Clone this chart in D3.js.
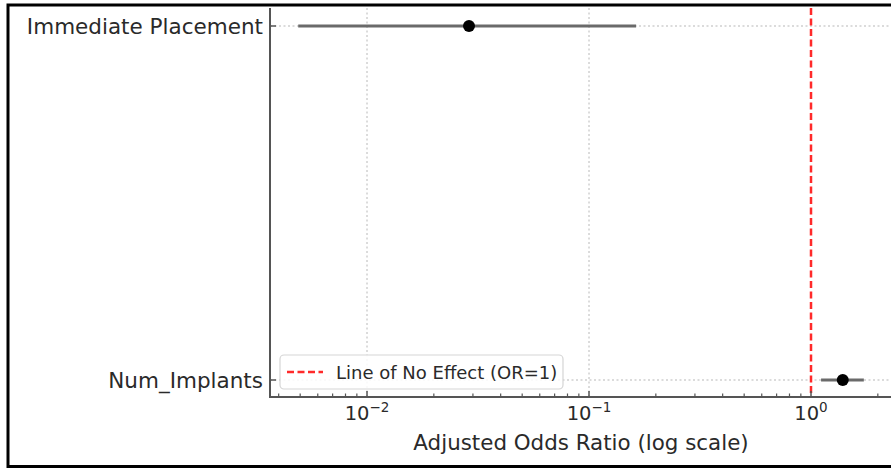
<!DOCTYPE html>
<html>
<head>
<meta charset="utf-8">
<script src="https://cdn.jsdelivr.net/npm/d3@7"></script>
<style>
  html, body { margin: 0; padding: 0; background: #fff; }
  svg { display: block; }
  text { font-family: "DejaVu Sans", sans-serif; }
</style>
</head>
<body>
<svg id="chart" width="891" height="468"></svg>
<script>
// ---- data ----
const categories = ["Immediate Placement", "Num_Implants"];
const oddsRatios = [0.0288, 1.39];
const ciLower = [0.0049, 1.11];
const ciUpper = [0.163, 1.73];
const majorTicks = [0.01, 0.1, 1];
const majorTickExponents = ["\u22122", "\u22121", "0"];
const legendLabel = "Line of No Effect (OR=1)";
const xLabel = "Adjusted Odds Ratio (log scale)";
const noEffect = 1;

// ---- layout ----
(function () {
const W = 891, H = 468;
const plotLeft = 270, plotTop = 8, plotBottom = 397, rightPx = 920;
const svg = d3.select("#chart");

// frame (cropped screenshot border)
svg.append("path")
  .attr("d", `M ${W + 5} 5 H 8 V 466.5 H ${W + 5}`)
  .attr("fill", "none").attr("stroke", "#000").attr("stroke-width", 3);

const x = d3.scaleLog()
  .domain([Math.pow(10, -2.437), Math.pow(10, 0.491)])
  .range([plotLeft, rightPx]);
const y = d3.scalePoint().domain(categories).range([26, 380]);

const g = svg.append("g");

// grid
g.selectAll(".vgrid").data(majorTicks.filter(d => d !== noEffect)).enter()
  .append("line")
  .attr("x1", d => x(d)).attr("x2", d => x(d))
  .attr("y1", plotTop).attr("y2", plotBottom)
  .attr("stroke", "#d0d0d0").attr("stroke-width", 1.5)
  .attr("stroke-dasharray", "2,2.5");
g.selectAll(".hgrid").data(categories).enter()
  .append("line")
  .attr("x1", plotLeft).attr("x2", W)
  .attr("y1", d => y(d)).attr("y2", d => y(d))
  .attr("stroke", "#d0d0d0").attr("stroke-width", 1.5)
  .attr("stroke-dasharray", "2,2.5");

// CI lines
g.selectAll(".ci").data(categories).enter()
  .append("line")
  .attr("x1", (d, i) => x(ciLower[i])).attr("x2", (d, i) => x(ciUpper[i]))
  .attr("y1", d => y(d)).attr("y2", d => y(d))
  .attr("stroke", "#6a6a6a").attr("stroke-width", 3);

// reference line
g.append("line")
  .attr("x1", x(noEffect)).attr("x2", x(noEffect))
  .attr("y1", plotTop).attr("y2", plotBottom)
  .attr("stroke", "#ff2a2a").attr("stroke-width", 2.5)
  .attr("stroke-dasharray", "7,3.5");

// points
g.selectAll(".pt").data(categories).enter()
  .append("circle")
  .attr("cx", (d, i) => x(oddsRatios[i])).attr("cy", d => y(d))
  .attr("r", 6).attr("fill", "#000");

// spines
g.append("line").attr("x1", plotLeft).attr("x2", plotLeft).attr("y1", plotTop).attr("y2", plotBottom + 1)
  .attr("stroke", "#555").attr("stroke-width", 2);
g.append("line").attr("x1", plotLeft).attr("x2", W).attr("y1", plotBottom).attr("y2", plotBottom)
  .attr("stroke", "#555").attr("stroke-width", 2);

// x ticks (inward)
const [d0, d1] = x.domain();
const minor = [];
for (let e = -3; e <= 1; e++) {
  for (let k = 2; k <= 9; k++) {
    const v = k * Math.pow(10, e);
    if (v >= d0 && v <= d1) minor.push(v);
  }
}
g.selectAll(".minor").data(minor).enter().append("line")
  .attr("x1", d => x(d)).attr("x2", d => x(d))
  .attr("y1", plotBottom).attr("y2", plotBottom - 3.5)
  .attr("stroke", "#555").attr("stroke-width", 1.2);
g.selectAll(".major").data(majorTicks).enter().append("line")
  .attr("x1", d => x(d)).attr("x2", d => x(d))
  .attr("y1", plotBottom).attr("y2", plotBottom - 6)
  .attr("stroke", "#555").attr("stroke-width", 1.5);

// x tick labels
const tl = g.selectAll(".tl").data(majorTicks).enter().append("text")
  .attr("x", d => x(d)).attr("y", 420)
  .attr("text-anchor", "middle").attr("fill", "#2a2a2a").attr("font-size", 19.5);
tl.append("tspan").text("10");
tl.append("tspan").attr("dy", -8).attr("font-size", 13.5)
  .text((d, i) => majorTickExponents[i]);

// y ticks (inward) and labels
g.selectAll(".yt").data(categories).enter().append("line")
  .attr("x1", plotLeft).attr("x2", plotLeft + 6)
  .attr("y1", d => y(d)).attr("y2", d => y(d))
  .attr("stroke", "#555").attr("stroke-width", 1.5);
g.selectAll(".yl").data(categories).enter().append("text")
  .attr("x", 263).attr("y", d => y(d) + 8)
  .attr("text-anchor", "end").attr("fill", "#2a2a2a").attr("font-size", 21.5)
  .text(d => d);

// x axis label
g.append("text").attr("x", 581).attr("y", 450)
  .attr("text-anchor", "middle").attr("fill", "#2a2a2a").attr("font-size", 21.4)
  .text(xLabel);

// legend
const lg = g.append("g");
lg.append("rect").attr("x", 280).attr("y", 355).attr("width", 283).attr("height", 34)
  .attr("rx", 4).attr("fill", "#fff").attr("fill-opacity", 0.85)
  .attr("stroke", "#d5d5d5").attr("stroke-width", 1.2);
lg.append("line").attr("x1", 287).attr("x2", 323).attr("y1", 372).attr("y2", 372)
  .attr("stroke", "#ff2a2a").attr("stroke-width", 2.5).attr("stroke-dasharray", "7,3.5");
lg.append("text").attr("x", 336).attr("y", 378.5)
  .attr("fill", "#2a2a2a").attr("font-size", 18).text(legendLabel);
})();
</script>
</body>
</html>
